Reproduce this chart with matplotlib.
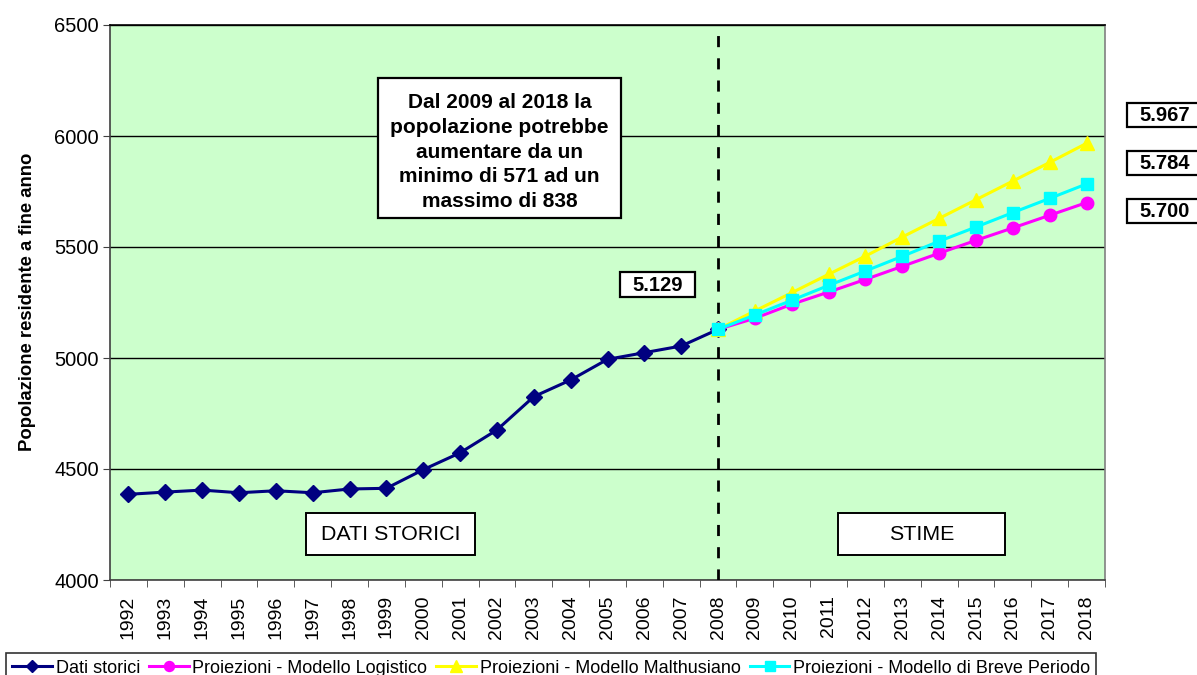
import matplotlib
matplotlib.use('Agg')
import matplotlib.pyplot as plt
from matplotlib.patches import Rectangle
import numpy as np

plt.rcParams['font.family'] = ['Liberation Sans', 'DejaVu Sans']

# data
anni = list(range(1992, 2019))
anni_storici = list(range(1992, 2009))
anni_stime = list(range(2008, 2019))
storici = [4386, 4396, 4405, 4393, 4402, 4393, 4410, 4413, 4497, 4573,
           4676, 4826, 4901, 4994, 5024, 5054, 5129]
logistico = [5129, 5179, 5242, 5297, 5354, 5413, 5472, 5530, 5586, 5643, 5700]
malthusiano = [5129, 5212, 5294, 5377, 5459, 5545, 5629, 5713, 5797, 5881, 5967]
breve = [5129, 5194, 5260, 5327, 5392, 5458, 5526, 5590, 5655, 5719, 5784]
etichette_fine = ['5.967', '5.784', '5.700']

W, H = 1197, 675
fig = plt.figure(figsize=(W/100, H/100), dpi=100)
ax = fig.add_axes([110/W, 1-580/H, (1105-110)/W, (580-25)/H])
ax.set_facecolor('#CCFFCC')

xs = [anni.index(a) for a in anni_storici]
xp = [anni.index(a) for a in anni_stime]

ax.plot(xs, storici, color='#000080', lw=2.2, marker='D', ms=8, label='Dati storici', zorder=4)
ax.plot(xp, logistico, color='#FF00FF', lw=2.2, marker='o', ms=9, label='Proiezioni - Modello Logistico', zorder=4)
ax.plot(xp, malthusiano, color='#FFFF00', lw=2.2, marker='^', ms=10, label='Proiezioni - Modello Malthusiano', zorder=4)
ax.plot(xp, breve, color='#00FFFF', lw=2.2, marker='s', ms=8.5, label='Proiezioni - Modello di Breve Periodo', zorder=4)

ax.axvline(anni.index(2008), color='black', lw=2, ls=(0, (4, 4)), zorder=3)

ax.set_xlim(-0.5, len(anni) - 0.5)
ax.set_ylim(4000, 6500)
ax.set_yticks([4000, 4500, 5000, 5500, 6000, 6500])
ax.yaxis.grid(True, color='black', lw=1)
ax.set_axisbelow(True)
ax.set_xticks(range(len(anni)))
ax.set_xticklabels([str(a) for a in anni], rotation=90, fontsize=14)
ax.set_xticks(np.arange(-0.5, len(anni), 1), minor=True)
ax.tick_params(axis='x', which='major', length=0, pad=11)
ax.tick_params(axis='x', which='minor', length=5, direction='out', color='#404040')
ax.tick_params(axis='y', length=5, direction='out', labelsize=14.5, pad=3, color='#404040')
for s in ax.spines.values():
    s.set_color('#808080')
    s.set_linewidth(1.2)
ax.spines['left'].set_color('#404040')
ax.spines['bottom'].set_color('#404040')
ax.spines['top'].set_color('black')

fig.text(28/W, 1-302/H, 'Popolazione residente a fine anno', rotation=90,
         fontsize=13.3, fontweight='bold', ha='center', va='center')


def riquadro(x0, y0, x1, y1, lw=1.6):
    # box drawn in pixel positions of the figure
    fig.add_artist(Rectangle((x0/W, 1-y1/H), (x1-x0)/W, (y1-y0)/H, transform=fig.transFigure,
                             fc='white', ec='black', lw=lw, zorder=5, clip_on=False))


riquadro(378, 78, 621, 218)
fig.text(499.5/W, 1-152/H, 'Dal 2009 al 2018 la\npopolazione potrebbe\naumentare da un\nminimo di 571 ad un\nmassimo di 838',
         ha='center', va='center', fontsize=15, fontweight='bold', linespacing=1.38, zorder=6)

riquadro(620, 272, 695, 297)
fig.text(657.5/W, 1-285/H, '5.129', ha='center', va='center', fontsize=14.5, fontweight='bold', zorder=6)

riquadro(306, 513, 475, 555, lw=1.4)
fig.text(390.5/W, 1-534/H, 'DATI STORICI', ha='center', va='center', fontsize=15.4, zorder=6)
riquadro(838, 513, 1005, 555, lw=1.4)
fig.text(921.5/W, 1-534/H, 'STIME', ha='center', va='center', fontsize=15.4, zorder=6)

for i, t in enumerate(etichette_fine):
    y0 = [103, 151, 199][i]
    riquadro(1127, y0, 1205, y0 + 24)
    fig.text(1139/W, 1-(y0 + 12.5)/H, t, ha='left', va='center', fontsize=14.5, fontweight='bold', zorder=6)

leg = fig.legend(loc='lower left', bbox_to_anchor=(6/W, -8/H), ncol=4, fontsize=13,
                 frameon=True, fancybox=False, edgecolor='black', handlelength=2.2,
                 markerscale=0.8, handletextpad=0.2, columnspacing=0.5, borderpad=0.35,
                 borderaxespad=0)
leg.get_frame().set_linewidth(1.2)

fig.savefig('out.png', dpi=100)
